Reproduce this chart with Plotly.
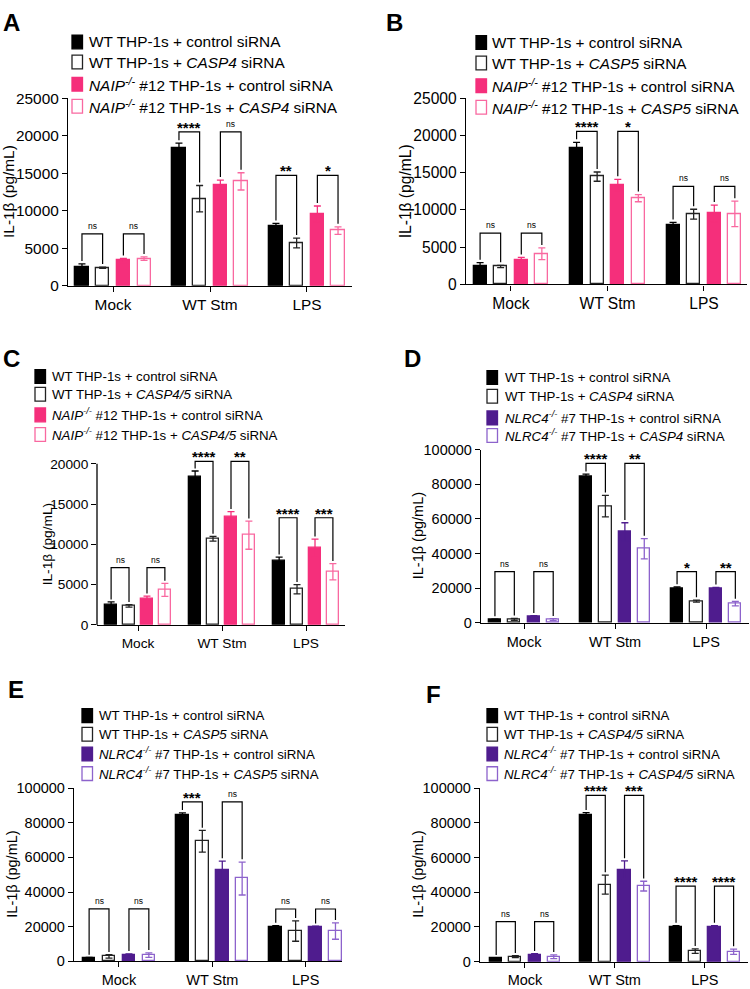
import plotly.graph_objects as go

W, H = 750, 989
FONT = "Liberation Sans, Arial, Helvetica, sans-serif"

categories = ["Mock", "WT Stm", "LPS"]

# ---------------- data (IL-1beta pg/mL, mean and error) ----------------
A_wt_ctrl = [2500, 18350, 8000];  A_wt_ctrl_err = [400, 650, 300]
A_wt_kd = [2400, 11600, 5700];    A_wt_kd_err = [80, 1750, 650]
A_ko_ctrl = [3350, 13350, 9550];  A_ko_ctrl_err = [280, 720, 1070]
A_ko_kd = [3600, 13900, 7350];    A_ko_kd_err = [230, 1150, 500]

B_wt_ctrl = [2500, 18350, 8000];  B_wt_ctrl_err = [420, 720, 330]
B_wt_kd = [2420, 14470, 9430];    B_wt_kd_err = [150, 620, 660]
B_ko_ctrl = [3330, 13330, 9520];  B_ko_ctrl_err = [300, 780, 1130]
B_ko_kd = [4120, 11580, 9470];    B_ko_kd_err = [780, 480, 1700]

C_wt_ctrl = [2520, 18420, 8010];  C_wt_ctrl_err = [330, 680, 400]
C_wt_kd = [2360, 10690, 4430];    C_wt_kd_err = [150, 290, 570]
C_ko_ctrl = [3250, 13370, 9510];  C_ko_ctrl_err = [330, 700, 1130]
C_ko_kd = [4350, 11140, 6590];    C_ko_kd_err = [800, 1750, 1010]

D_wt_ctrl = [1900, 84500, 20000]; D_wt_ctrl_err = [350, 1300, 750]
D_wt_kd = [2100, 67400, 12600];   D_wt_kd_err = [550, 6200, 560]
D_ko_ctrl = [3400, 52500, 19600]; D_ko_ctrl_err = [750, 5300, 950]
D_ko_kd = [1900, 42800, 11100];   D_ko_kd_err = [550, 5850, 1300]

E_wt_ctrl = [1900, 84400, 19900]; E_wt_ctrl_err = [350, 1300, 760]
E_wt_kd = [2850, 69300, 17500];   E_wt_kd_err = [950, 6250, 5900]
E_ko_ctrl = [3600, 52750, 19550]; E_ko_ctrl_err = [760, 5100, 750]
E_ko_kd = [3600, 47800, 17500];   E_ko_kd_err = [1300, 9500, 4750]

F_wt_ctrl = [1900, 84500, 20000]; F_wt_ctrl_err = [350, 1300, 760]
F_wt_kd = [2850, 44400, 6050];    F_wt_kd_err = [550, 5500, 1300]
F_ko_ctrl = [3800, 52900, 19700]; F_ko_ctrl_err = [750, 5100, 1100]
F_ko_kd = [2850, 43500, 5700];    F_ko_kd_err = [1100, 2800, 1500]

# significance brackets: level per group and labels (left pair, right pair)
A_sig_level = [6900, 20500, 14700]; A_sig = [["ns", "ns"], ["****", "ns"], ["**", "*"]]
B_sig_level = [6900, 20550, 13150]; B_sig = [["ns", "ns"], ["****", "*"], ["ns", "ns"]]
C_sig_level = [7100, 20300, 13300]; C_sig = [["ns", "ns"], ["****", "**"], ["****", "***"]]
D_sig_level = [29600, 92000, 29600]; D_sig = [["ns", "ns"], ["****", "**"], ["*", "**"]]
E_sig_level = [30300, 92000, 30200]; E_sig = [["ns", "ns"], ["***", "ns"], ["ns", "ns"]]
F_sig_level = [23000, 95800, 43500]; F_sig = [["ns", "ns"], ["****", "***"], ["****", "****"]]

# y tick labels
ticks_25k = [0, 5000, 10000, 15000, 20000, 25000]
ticks_20k = [0, 5000, 10000, 15000, 20000]
ticks_100k = [0, 20000, 40000, 60000, 80000, 100000]

NAIP = "<i>NAIP<sup>-/-</sup></i>"
NLRC4 = "<i>NLRC4<sup>-/-</sup></i>"
A_names = ["WT THP-1s + control siRNA", "WT THP-1s + <i>CASP4</i> siRNA",
           NAIP + " #12 THP-1s + control siRNA", NAIP + " #12 THP-1s + <i>CASP4</i> siRNA"]
B_names = ["WT THP-1s + control siRNA", "WT THP-1s + <i>CASP5</i> siRNA",
           NAIP + " #12 THP-1s + control siRNA", NAIP + " #12 THP-1s + <i>CASP5</i> siRNA"]
C_names = ["WT THP-1s + control siRNA", "WT THP-1s + <i>CASP4/5</i> siRNA",
           NAIP + " #12 THP-1s + control siRNA", NAIP + " #12 THP-1s + <i>CASP4/5</i> siRNA"]
D_names = ["WT THP-1s + control siRNA", "WT THP-1s + <i>CASP4</i> siRNA",
           NLRC4 + " #7 THP-1s + control siRNA", NLRC4 + " #7 THP-1s + <i>CASP4</i> siRNA"]
E_names = ["WT THP-1s + control siRNA", "WT THP-1s + <i>CASP5</i> siRNA",
           NLRC4 + " #7 THP-1s + control siRNA", NLRC4 + " #7 THP-1s + <i>CASP5</i> siRNA"]
F_names = ["WT THP-1s + control siRNA", "WT THP-1s + <i>CASP4/5</i> siRNA",
           NLRC4 + " #7 THP-1s + control siRNA", NLRC4 + " #7 THP-1s + <i>CASP4/5</i> siRNA"]

# ---------------- styles ----------------
PINK, PINK_L = "#F52F7B", "#F968A0"
PURP, PURP_L = "#4F1C8E", "#8D63CC"
STY_NAIP = [("#000000", "#000000"), ("#FFFFFF", "#222222"), (PINK, PINK), ("#FFFFFF", PINK_L)]
STY_NLRC = [("#000000", "#000000"), ("#FFFFFF", "#222222"), (PURP, PURP), ("#FFFFFF", PURP_L)]
OFFS = [-0.32, -0.107, 0.107, 0.32]
BW = 0.135


def px(x):
    return x / W


def py(y):
    return 1 - y / H


panels = [
    dict(letter="A", letter_xy=(1, 14), data=[(A_wt_ctrl, A_wt_ctrl_err), (A_wt_kd, A_wt_kd_err), (A_ko_ctrl, A_ko_ctrl_err), (A_ko_kd, A_ko_kd_err)],
         sty=STY_NAIP, names=A_names, sig=A_sig, lvl=A_sig_level, ticks=ticks_25k, ymax=25000,
         xpx=(68, 352), xr=(-0.464, 2.464), y0px=281.5, ytop_val=25000, ytop_px=90.7, line_top=None,
         leg_sq=72, leg_tx=87, leg_rows=[33.5, 54, 76.5, 99], fs=15.4, tfs=15.4, ttl_x=9),
    dict(letter="B", letter_xy=(384, 14), data=[(B_wt_ctrl, B_wt_ctrl_err), (B_wt_kd, B_wt_kd_err), (B_ko_ctrl, B_ko_ctrl_err), (B_ko_kd, B_ko_kd_err)],
         sty=STY_NAIP, names=B_names, sig=B_sig, lvl=B_sig_level, ticks=ticks_25k, ymax=25000,
         xpx=(466, 747), xr=(-0.466, 2.446), y0px=280.3, ytop_val=25000, ytop_px=90.7, line_top=None,
         leg_sq=476, leg_tx=490, leg_rows=[34, 55, 78, 100], fs=15.3, tfs=15.6, ttl_x=405),
    dict(letter="C", letter_xy=(1, 356), data=[(C_wt_ctrl, C_wt_ctrl_err), (C_wt_kd, C_wt_kd_err), (C_ko_ctrl, C_ko_ctrl_err), (C_ko_kd, C_ko_kd_err)],
         sty=STY_NAIP, names=C_names, sig=C_sig, lvl=C_sig_level, ticks=ticks_20k, ymax=20000,
         xpx=(97, 345), xr=(-0.488, 2.464), y0px=626.7, ytop_val=21600, ytop_px=626.7 - 164.0 * 21600 / 20000, line_top=20000,
         leg_sq=35, leg_tx=50, leg_rows=[374, 392, 413, 433], fs=13.3, tfs=13.7, ttl_x=47),
    dict(letter="D", letter_xy=(402, 356), data=[(D_wt_ctrl, D_wt_ctrl_err), (D_wt_kd, D_wt_kd_err), (D_ko_ctrl, D_ko_ctrl_err), (D_ko_kd, D_ko_kd_err)],
         sty=STY_NLRC, names=D_names, sig=D_sig, lvl=D_sig_level, ticks=ticks_100k, ymax=100000,
         xpx=(481, 749), xr=(-0.473, 2.47), y0px=624.7, ytop_val=100000, ytop_px=448.3, line_top=None,
         leg_sq=487, leg_tx=503, leg_rows=[375, 394, 416, 434], fs=13.3, tfs=14.5, ttl_x=418),
    dict(letter="E", letter_xy=(6, 692), data=[(E_wt_ctrl, E_wt_ctrl_err), (E_wt_kd, E_wt_kd_err), (E_ko_ctrl, E_ko_ctrl_err), (E_ko_kd, E_ko_kd_err)],
         sty=STY_NLRC, names=E_names, sig=E_sig, lvl=E_sig_level, ticks=ticks_100k, ymax=100000,
         xpx=(74, 342), xr=(-0.482, 2.39), y0px=969.0, ytop_val=100000, ytop_px=792.7, line_top=None,
         leg_sq=82, leg_tx=97, leg_rows=[719, 738, 758, 778], fs=13.3, tfs=14.5, ttl_x=12),
    dict(letter="F", letter_xy=(424, 697), data=[(F_wt_ctrl, F_wt_ctrl_err), (F_wt_kd, F_wt_kd_err), (F_ko_ctrl, F_ko_ctrl_err), (F_ko_kd, F_ko_kd_err)],
         sty=STY_NLRC, names=F_names, sig=F_sig, lvl=F_sig_level, ticks=ticks_100k, ymax=100000,
         xpx=(480, 748), xr=(-0.5, 2.48), y0px=969.3, ytop_val=100000, ytop_px=792.7, line_top=None,
         leg_sq=487, leg_tx=502, leg_rows=[719, 738, 758, 778], fs=13.3, tfs=14.5, ttl_x=418),
]

fig = go.Figure()
layout = dict(width=W, height=H, margin=dict(l=0, r=0, t=0, b=0),
              paper_bgcolor="white", plot_bgcolor="white", showlegend=False,
              font=dict(family=FONT, color="black"), bargap=0)
shapes, annots = [], []

for i, p in enumerate(panels, start=1):
    xk = "xaxis" if i == 1 else f"xaxis{i}"
    yk = "yaxis" if i == 1 else f"yaxis{i}"
    xr_ = "x" if i == 1 else f"x{i}"
    yr_ = "y" if i == 1 else f"y{i}"

    layout[xk] = dict(domain=[px(p["xpx"][0]), px(p["xpx"][1])], range=list(p["xr"]), anchor=yr_,
                      tickvals=[0, 1, 2], ticktext=categories, showline=True, linecolor="black",
                      linewidth=1.3, ticks="outside", ticklen=5, tickwidth=1.3, tickcolor="black",
                      showgrid=False, zeroline=False, tickfont=dict(size=p["tfs"], family=FONT), fixedrange=True)
    layout[yk] = dict(domain=[py(p["y0px"]), py(p["ytop_px"])], range=[0, p["ytop_val"]], anchor=xr_,
                      tickvals=p["ticks"], ticktext=[str(t) for t in p["ticks"]],
                      showline=p["line_top"] is None, linecolor="black", linewidth=1.3,
                      ticks="outside", ticklen=5, tickwidth=1.3, tickcolor="black",
                      showgrid=False, zeroline=False, tickfont=dict(size=p["tfs"], family=FONT), fixedrange=True)
    if p["line_top"] is not None:
        shapes.append(dict(type="line", xref=f"{xr_} domain", yref=yr_, x0=0, x1=0, y0=0, y1=p["line_top"],
                           line=dict(color="black", width=1.3)))

    # bars
    for k, ((vals, errs), (fill, line)) in enumerate(zip(p["data"], p["sty"])):
        fig.add_trace(go.Bar(
            x=[g + OFFS[k] for g in range(len(categories))], y=vals, width=BW,
            name=p["names"][k],
            marker=dict(color=fill, line=dict(color=line, width=1.3)),
            error_y=dict(type="data", array=errs, color=line, thickness=1.3, width=3.5),
            xaxis=xr_, yaxis=yr_, showlegend=False))

    # significance brackets
    gap = 0.016 * p["ymax"]
    for g in range(len(categories)):
        for pair in range(2):
            k0, k1 = 2 * pair, 2 * pair + 1
            v0, e0 = p["data"][k0][0][g], p["data"][k0][1][g]
            v1, e1 = p["data"][k1][0][g], p["data"][k1][1][g]
            xa, xb = g + OFFS[k0], g + OFFS[k1]
            lv = p["lvl"][g]
            path = f"M {xa},{v0 + e0 + gap} L {xa},{lv} L {xb},{lv} L {xb},{v1 + e1 + gap}"
            shapes.append(dict(type="path", xref=xr_, yref=yr_, path=path,
                               line=dict(color="black", width=1.2)))
            lab = p["sig"][g][pair]
            if lab == "ns":
                annots.append(dict(x=(xa + xb) / 2, y=lv, xref=xr_, yref=yr_, text="ns", showarrow=False,
                                   xanchor="center", yanchor="bottom", yshift=1,
                                   font=dict(size=8.5, family=FONT)))
            else:
                annots.append(dict(x=(xa + xb) / 2, y=lv, xref=xr_, yref=yr_, text=f"<b>{lab}</b>", showarrow=False,
                                   xanchor="center", yanchor="bottom", yshift=-6,
                                   font=dict(size=15, family=FONT)))

    # y-axis title
    ymid = (p["y0px"] + (p["y0px"] - (p["y0px"] - p["ytop_px"]) * p["ymax"] / p["ytop_val"])) / 2
    annots.append(dict(x=px(p["ttl_x"]), y=py(ymid), xref="paper", yref="paper", text="IL-1β (pg/mL)",
                       textangle=-90, showarrow=False, xanchor="center", yanchor="middle",
                       font=dict(size=p["tfs"], family=FONT)))

    # panel letter
    annots.append(dict(x=px(p["letter_xy"][0]), y=py(p["letter_xy"][1]), xref="paper", yref="paper",
                       text=f"<b>{p['letter']}</b>", showarrow=False, xanchor="left", yanchor="middle",
                       font=dict(size=24, family=FONT)))

    # legend (drawn manually)
    for k, (row_y, (fill, line)) in enumerate(zip(p["leg_rows"], p["sty"])):
        shapes.append(dict(type="rect", xref="paper", yref="paper",
                           x0=px(p["leg_sq"]), x1=px(p["leg_sq"] + 10.5),
                           y0=py(row_y + 7), y1=py(row_y - 7),
                           fillcolor=fill, line=dict(color=line, width=1.3)))
        annots.append(dict(x=px(p["leg_tx"]), y=py(row_y), xref="paper", yref="paper", text=p["names"][k],
                           showarrow=False, xanchor="left", yanchor="middle",
                           font=dict(size=p["fs"], family=FONT)))

layout["shapes"] = shapes
layout["annotations"] = annots
fig.update_layout(**layout)
fig.write_html("out.html", config={"displayModeBar": False},
               post_script="document.body.style.margin='0';document.body.style.padding='0';"
                           "document.body.style.overflow='hidden';")
